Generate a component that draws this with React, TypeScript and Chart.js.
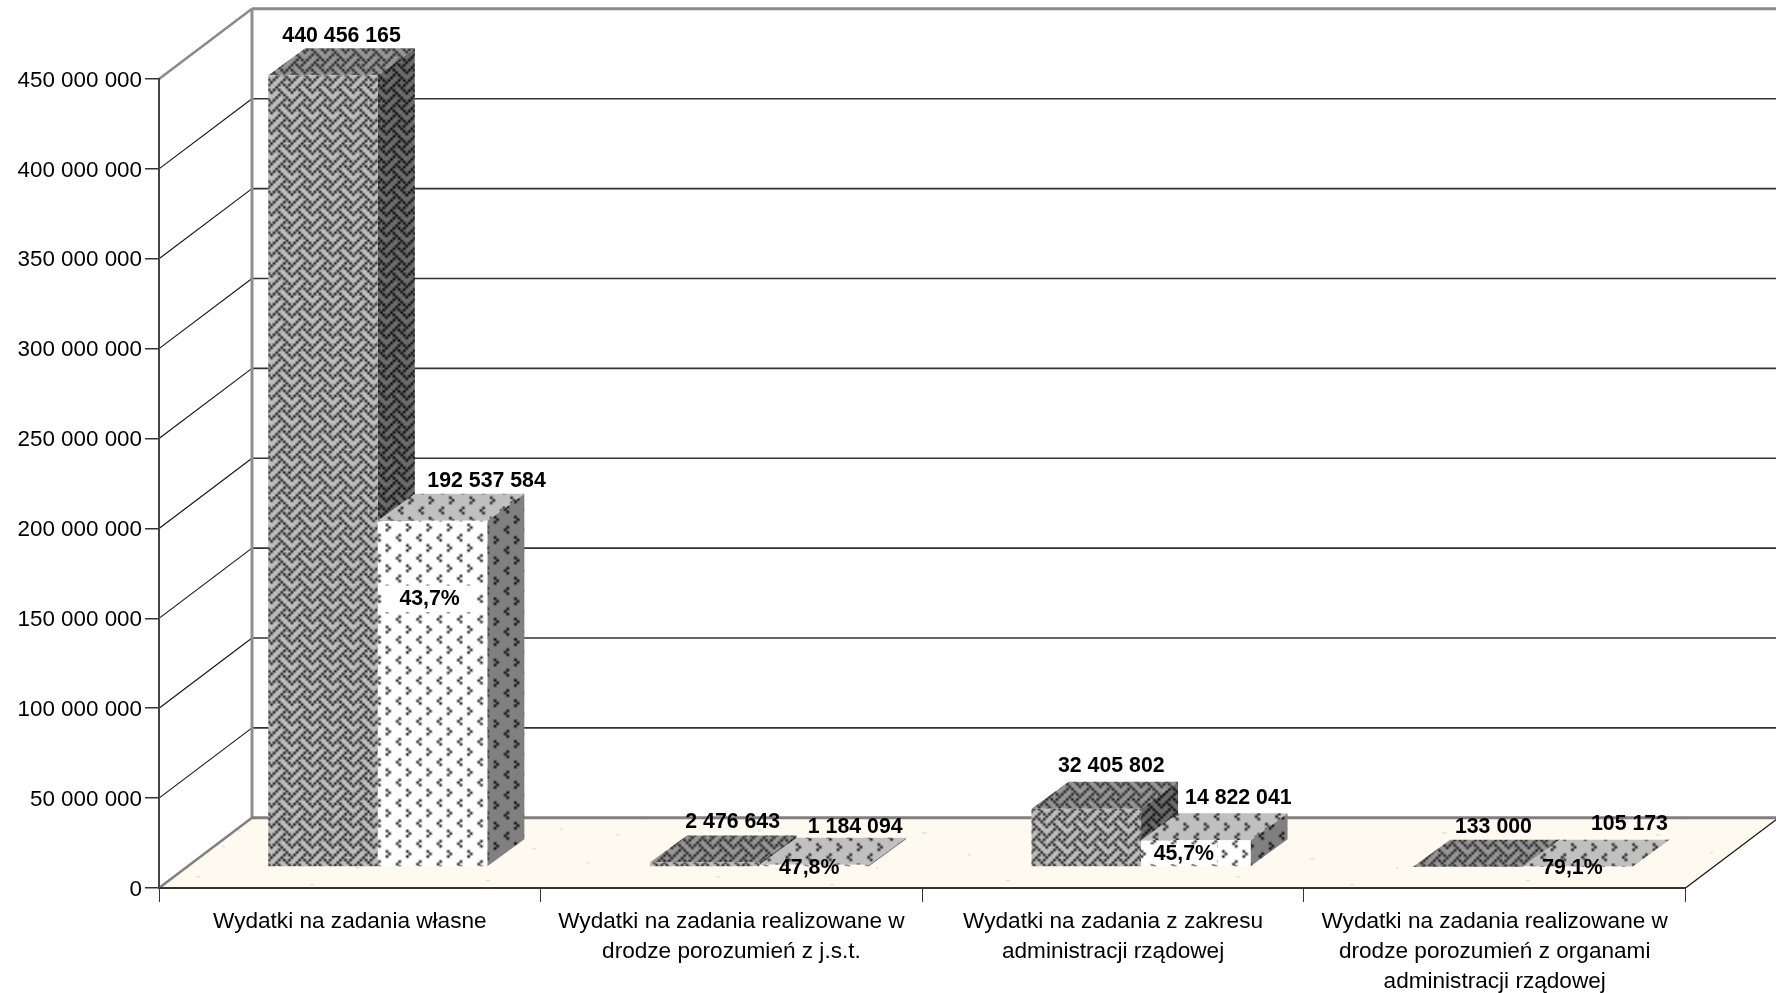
import React, { useEffect, useRef } from "react";
import { Chart, registerables } from "chart.js";

Chart.register(...registerables);

const categories: (string | string[])[] = [
  "Wydatki na zadania własne",
  ["Wydatki na zadania realizowane w", "drodze porozumień z j.s.t."],
  ["Wydatki na zadania z zakresu", "administracji rządowej"],
  ["Wydatki na zadania realizowane w", "drodze porozumień z organami", "administracji rządowej"],
];
const planned = [440456165, 2476643, 32405802, 133000];
const executed = [192537584, 1184094, 14822041, 105173];
const percents = ["43,7%", "47,8%", "45,7%", "79,1%"];

const W = 1776;
const H = 993;
const FONT = '"Liberation Sans", Arial, sans-serif';
const TEXT = "#000000";

const WALL_DX = 93;
const WALL_DY = -70.2;
const BAR_SHIFT_X = 28;
const BAR_SHIFT_Y = -21;
const BAR_DX = 37;
const BAR_DY = -27;

const plannedLabelOffset: [number, number][] = [[18.5, -39], [28, -40], [25, -43], [25.5, -40]];
const executedLabelOffset: [number, number][] = [[54, -40], [41, -38], [42.5, -42], [52, -43]];
const percentOffset: [number, number][] = [[-3, 78], [-5, 3.5], [-12, 14], [-5, 1.5]];
const percentBox = [true, false, true, false];
const percentBoxPad = [29, 0, 6, 0];
const percentBoxHeight = [26.6, 0, 20, 0];

const WEAVE = [0x11, 0x2a, 0x44, 0xa2, 0x11, 0x28, 0x44, 0x8a];
const DIVOT = [0x00, 0x08, 0x04, 0x08, 0x00, 0x40, 0x80, 0x40];

const HATCH = 2.55; // on-screen pixels per hatch bit

function makePattern(ctx: CanvasRenderingContext2D, bits: number[], fg: string, bg: string, dx = 0, dy = 0) {
  const t = document.createElement("canvas");
  t.width = 8;
  t.height = 8;
  const c = t.getContext("2d")!;
  c.fillStyle = bg;
  c.fillRect(0, 0, 8, 8);
  c.fillStyle = fg;
  bits.forEach((row, y) => {
    for (let x = 0; x < 8; x++) if (row & (0x80 >> x)) c.fillRect(x, y, 1, 1);
  });
  const p = ctx.createPattern(t, "repeat")!;
  p.setTransform(new DOMMatrix().translate(dx, dy).scale(HATCH));
  return p;
}

function makeFloorPattern(ctx: CanvasRenderingContext2D) {
  const t = document.createElement("canvas");
  t.width = 520;
  t.height = 70;
  const c = t.getContext("2d")!;
  c.fillStyle = "#fffaf0";
  c.fillRect(0, 0, 520, 70);
  c.fillStyle = "#dbe8d8";
  const specks = [[12, 8, 4], [66, 22, 3], [120, 48, 5], [150, 12, 3], [196, 36, 4], [238, 60, 3], [270, 18, 5], [40, 58, 3], [96, 64, 4], [222, 6, 3], [310, 44, 4], [356, 27, 3], [402, 62, 5], [448, 14, 3], [486, 40, 4]];
  specks.forEach(([x, y, w]) => c.fillRect(x, y, w, 1.5));
  return ctx.createPattern(t, "repeat")!;
}

const fmt = (v: number) => String(v).replace(/\B(?=(\d{3})+(?!\d))/g, " ");

export default function App() {
  const ref = useRef<HTMLCanvasElement>(null);
  useEffect(() => {
    const canvas = ref.current!;
    const ctx = canvas.getContext("2d")!;
    const pat = {
      front0: makePattern(ctx, WEAVE, "#141414", "#bebebe"),
      top0: makePattern(ctx, WEAVE, "#1a1a1a", "#969696"),
      side0: makePattern(ctx, WEAVE, "#000000", "#6c6c6c"),
      front1: makePattern(ctx, DIVOT, "#101010", "#ffffff", 0.7, -8.7),
      top1: makePattern(ctx, DIVOT, "#101010", "#c0c0c0", -9.9, 4.3),
      side1: makePattern(ctx, DIVOT, "#000000", "#808080", -6.1, 3.2),
    };
    const floor = makeFloorPattern(ctx);

    const poly = (pts: number[][], fill: any) => {
      ctx.beginPath();
      pts.forEach(([x, y], i) => (i ? ctx.lineTo(x, y) : ctx.moveTo(x, y)));
      ctx.closePath();
      ctx.fillStyle = fill;
      ctx.fill();
    };
    const line = (x1: number, y1: number, x2: number, y2: number, color: string, w: number) => {
      ctx.beginPath();
      ctx.moveTo(x1, y1);
      ctx.lineTo(x2, y2);
      ctx.strokeStyle = color;
      ctx.lineWidth = w;
      ctx.stroke();
    };

    const box3d = {
      id: "box3d",
      beforeDraw(chart: any) {
        const { left, right, bottom, top } = chart.chartArea;
        const y = chart.scales.y;
        const bx = left + WALL_DX;
        y.ticks.forEach((t: any) => {
          const py = y.getPixelForValue(t.value);
          if (t.value > 0 && t.value < y.max) {
            line(left, py, bx, py + WALL_DY, "#111111", 1.1);
            line(bx, py + WALL_DY, W, py + WALL_DY, "#333333", 1.6);
          }
        });
        const by = bottom + WALL_DY;
        poly([[left, bottom], [bx, by], [right + WALL_DX, by], [right, bottom]], floor);
        line(left, top, bx, top + WALL_DY, "#8a8a8a", 2.5);
        line(bx, top + WALL_DY, W, top + WALL_DY, "#8a8a8a", 3);
        line(bx, top + WALL_DY, bx, by, "#8f8f8f", 3);
        line(bx, by, W, by, "#808080", 3);
        line(left, bottom, bx, by, "#808080", 2.5);
        line(right, bottom, right + WALL_DX, by, "#111111", 1.2);
      },
      beforeDatasetsDraw(chart: any) {
        const faces = [
          { top: pat.top0, side: pat.side0 },
          { top: pat.top1, side: pat.side1 },
        ];
        [0, 1].forEach((di) => {
          const meta = chart.getDatasetMeta(di);
          meta.data.forEach((el: any) => {
            const { x, y, base, width } = el.getProps(["x", "y", "base", "width"], true);
            const l = x - width / 2 + BAR_SHIFT_X;
            const r = x + width / 2 + BAR_SHIFT_X;
            const t = y + BAR_SHIFT_Y;
            const b = base + BAR_SHIFT_Y;
            poly([[r, t], [r + BAR_DX, t + BAR_DY], [r + BAR_DX, b + BAR_DY], [r, b]], faces[di].side);
            poly([[l, t], [l + BAR_DX, t + BAR_DY], [r + BAR_DX, t + BAR_DY], [r, t]], faces[di].top);
            ctx.save();
            ctx.translate(BAR_SHIFT_X, BAR_SHIFT_Y);
            el.draw(ctx);
            ctx.restore();
          });
        });
      },
      beforeDatasetDraw() {
        return false;
      },
      afterDraw(chart: any) {
        ctx.save();
        ctx.font = `bold 21.3px ${FONT}`;
        ctx.textAlign = "center";
        ctx.textBaseline = "middle";
        const put = (s: string, x: number, y: number, i: number) => {
          if (i >= 0 && percentBox[i]) {
            const w = ctx.measureText(s).width + percentBoxPad[i];
            const bh = percentBoxHeight[i];
            ctx.fillStyle = "#ffffff";
            ctx.fillRect(x - w / 2, y - bh / 2, w, bh);
          }
          ctx.fillStyle = TEXT;
          ctx.fillText(s, x, y);
        };
        const m0 = chart.getDatasetMeta(0).data;
        const m1 = chart.getDatasetMeta(1).data;
        categories.forEach((_, i) => {
          const a = m0[i];
          const b = m1[i];
          const p = percentOffset[i];
          put(percents[i], b.x + BAR_SHIFT_X + p[0], b.y + BAR_SHIFT_Y + p[1], i);
          put(fmt(planned[i]), a.x + BAR_SHIFT_X + plannedLabelOffset[i][0], a.y + BAR_SHIFT_Y + plannedLabelOffset[i][1], -1);
          put(fmt(executed[i]), b.x + BAR_SHIFT_X + executedLabelOffset[i][0], b.y + BAR_SHIFT_Y + executedLabelOffset[i][1], -1);
        });
        ctx.restore();
      },
    };

    const chart = new Chart(canvas, {
      type: "bar",
      data: {
        labels: categories as any,
        datasets: [
          { label: "Plan", data: planned, backgroundColor: pat.front0 as any, borderWidth: 0, clip: false as any },
          { label: "Wykonanie", data: executed, backgroundColor: pat.front1 as any, borderWidth: 0, clip: false as any },
        ],
      },
      options: {
        responsive: false,
        devicePixelRatio: 1,
        animation: false,
        events: [],
        layout: { padding: { top: 79, right: W - 1685.5, left: 0, bottom: 0 } },
        plugins: { legend: { display: false }, title: { display: false }, tooltip: { enabled: false } },
        datasets: { bar: { barPercentage: 1, categoryPercentage: 0.574 } },
        scales: {
          x: {
            afterFit: (s: any) => {
              s.height = H - 888;
            },
            grid: { offset: true, drawOnChartArea: false, drawTicks: true, tickLength: 14, color: "#333333", lineWidth: 1 },
            border: { display: true, color: "#333333", width: 2 },
            ticks: {
              autoSkip: false,
              maxRotation: 0,
              minRotation: 0,
              color: TEXT,
              padding: 5,
              font: { family: FONT, size: 22.6, lineHeight: 1.33 },
            },
          },
          y: {
            min: 0,
            max: 450000000,
            afterFit: (s: any) => {
              s.width = 159;
            },
            grid: { drawOnChartArea: false, drawTicks: true, tickLength: 14, color: "#333333", lineWidth: 1.5 },
            border: { display: true, color: "#444444", width: 2 },
            ticks: {
              stepSize: 50000000,
              color: TEXT,
              padding: 3,
              labelOffset: 1.5,
              font: { family: FONT, size: 22.4 },
              callback: (v: any) => fmt(Number(v)),
            },
          },
        },
      },
      plugins: [box3d as any],
    });
    return () => chart.destroy();
  }, []);
  return (
    <canvas
      ref={ref}
      width={W}
      height={H}
      style={{ position: "fixed", left: 0, top: 0, width: W, height: H, display: "block", background: "#ffffff" }}
    />
  );
}
